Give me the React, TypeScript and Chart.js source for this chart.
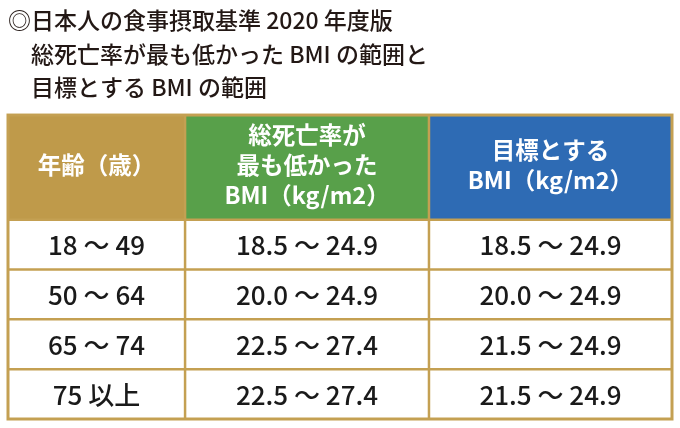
import React, { useEffect, useRef } from "react";
import { Chart, registerables } from "chart.js";

Chart.register(...registerables);

// ---- data ----
const titleLines = [
  "◎日本人の食事摂取基準 2020 年度版",
  "　総死亡率が最も低かった BMI の範囲と",
  "　目標とする BMI の範囲",
];
const columnHeaders = [
  ["年齢（歳）"],
  ["総死亡率が", "最も低かった", "BMI（kg/m2）"],
  ["目標とする", "BMI（kg/m2）"],
];
const ageGroups = ["18 〜 49", "50 〜 64", "65 〜 74", "75 以上"];
const lowestMortalityBMI = ["18.5 〜 24.9", "20.0 〜 24.9", "22.5 〜 27.4", "22.5 〜 27.4"];
const targetBMI = ["18.5 〜 24.9", "20.0 〜 24.9", "21.5 〜 24.9", "21.5 〜 24.9"];

// ---- layout / style ----
const headerColors = ["#BF9A4A", "#58A04A", "#2E6BB4"];
const GRID = "#C4A052";
const FONT = "'Noto Sans CJK JP', 'Noto Sans', sans-serif";
const colEdges = [0, 0.8, 1.902, 3];
const rowEdges = [0, 2.1, 3.1, 4.1, 5.1, 6.1];

const tablePlugin = {
  id: "bmiTable",
  afterDatasetsDraw(chart: any) {
    const { ctx, scales } = chart;
    const x = scales.x;
    const y = scales.y;
    const px = (v: number) => x.getPixelForValue(v);
    const py = (v: number) => y.getPixelForValue(v);
    const columns = [ageGroups, lowestMortalityBMI, targetBMI];
    const nRows = ageGroups.length;
    ctx.save();

    // header cells
    for (let c = 0; c < 3; c++) {
      const x0 = px(colEdges[c]);
      const x1 = px(colEdges[c + 1]);
      const y0 = py(rowEdges[0]);
      const y1 = py(rowEdges[1]);
      ctx.fillStyle = headerColors[c];
      ctx.fillRect(x0, y0, x1 - x0, y1 - y0);
    }
    // body cells
    ctx.fillStyle = "#FFFFFF";
    ctx.fillRect(px(0), py(rowEdges[1]), px(3) - px(0), py(rowEdges[nRows + 1]) - py(rowEdges[1]));

    // grid lines
    ctx.strokeStyle = GRID;
    ctx.lineWidth = 2.5;
    for (let r = 1; r <= nRows; r++) {
      ctx.beginPath();
      ctx.moveTo(px(0), py(rowEdges[r]));
      ctx.lineTo(px(3), py(rowEdges[r]));
      ctx.stroke();
    }
    for (let c = 1; c < 3; c++) {
      ctx.beginPath();
      ctx.moveTo(px(colEdges[c]), py(rowEdges[0]));
      ctx.lineTo(px(colEdges[c]), py(rowEdges[nRows + 1]));
      ctx.stroke();
    }
    ctx.lineWidth = 3;
    ctx.strokeRect(px(0), py(0), px(3) - px(0), py(rowEdges[nRows + 1]) - py(0));

    // header text
    ctx.textAlign = "center";
    ctx.textBaseline = "middle";
    ctx.fillStyle = "#FFFFFF";
    ctx.font = `bold 23.5px ${FONT}`;
    const lh = 30;
    for (let c = 0; c < 3; c++) {
      const cx = (px(colEdges[c]) + px(colEdges[c + 1])) / 2;
      const cy = (py(rowEdges[0]) + py(rowEdges[1])) / 2 - 2;
      const lines = columnHeaders[c];
      lines.forEach((t, i) => {
        ctx.fillText(t, cx, cy + (i - (lines.length - 1) / 2) * lh);
      });
    }

    // body text
    ctx.fillStyle = "#1A1A1A";
    ctx.font = `500 26px ${FONT}`;
    for (let c = 0; c < 3; c++) {
      const cx = (px(colEdges[c]) + px(colEdges[c + 1])) / 2;
      for (let r = 0; r < nRows; r++) {
        const cy = (py(rowEdges[r + 1]) + py(rowEdges[r + 2])) / 2;
        ctx.fillText(columns[c][r], cx, cy + 1);
      }
    }
    ctx.restore();
  },
};

export default function App() {
  const ref = useRef<HTMLCanvasElement | null>(null);
  useEffect(() => {
    if (!ref.current) return;
    const chart = new Chart(ref.current, {
      type: "scatter",
      data: { datasets: [{ data: [] }] },
      options: {
        animation: false,
        responsive: false,
        maintainAspectRatio: false,
        layout: { padding: { left: 8, right: 8, top: 0, bottom: 9 } },
        scales: {
          x: { type: "linear", min: 0, max: 3, display: false },
          y: { type: "linear", min: 0, max: 6.1, reverse: true, display: false },
        },
        plugins: {
          legend: { display: false },
          tooltip: { enabled: false },
          title: {
            display: true,
            text: titleLines,
            align: "start",
            color: "#231815",
            font: { family: FONT, size: 23, weight: "500", lineHeight: 1.45 },
            padding: { top: 4, bottom: 11 },
          },
        },
      },
      plugins: [tablePlugin],
    } as any);
    return () => chart.destroy();
  }, []);
  return (
    <div style={{ position: "fixed", left: 0, top: 0, width: 680, height: 428, background: "#FFFFFF" }}>
      <canvas ref={ref} width={680} height={428} style={{ display: "block" }} />
    </div>
  );
}
